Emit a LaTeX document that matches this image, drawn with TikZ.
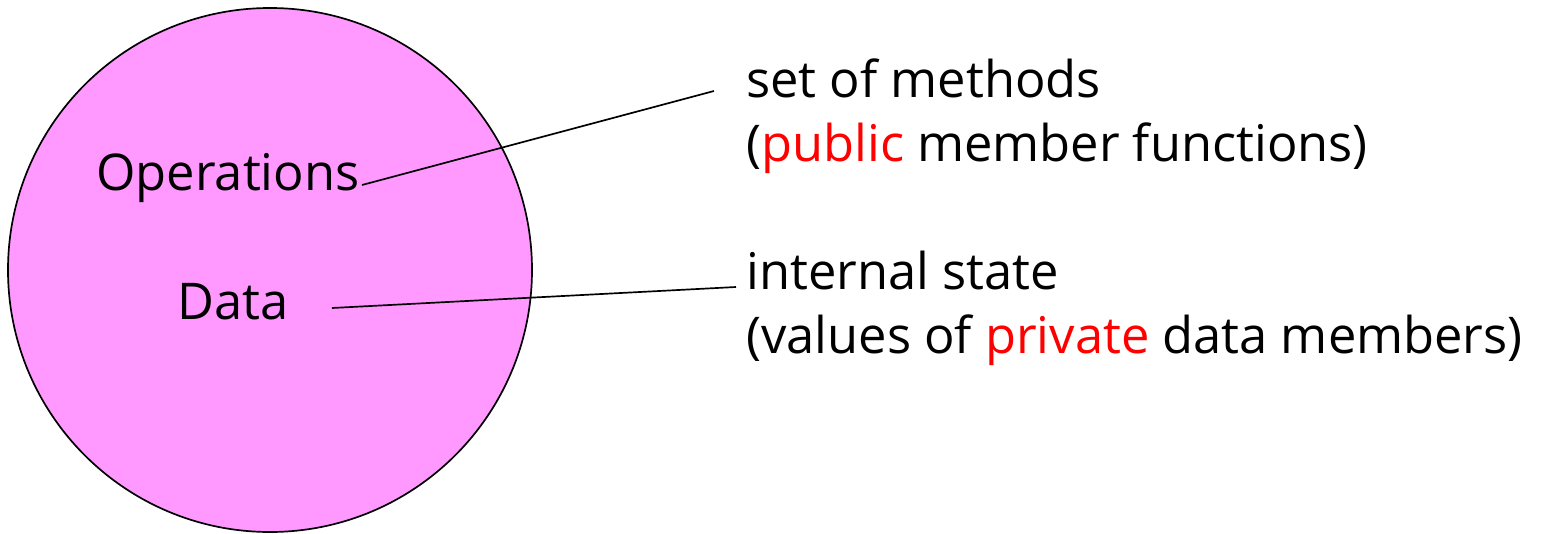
\documentclass[tikz,border=0pt]{standalone}
\usepackage{fontspec}
\setmainfont{Open Sans}
\definecolor{objpink}{HTML}{FF99FF}
\definecolor{keyred}{HTML}{FF0000}

\begin{document}
\begin{tikzpicture}[x=0.025cm, y=-0.025cm,
	every node/.style={font=\fontsize{36}{45}\selectfont, inner sep=0pt},
	lbl/.style={anchor=base west}]
	\useasboundingbox (0,0) rectangle (1546,533);
	\fill[objpink] (270,270) circle (262);
	\draw[line width=1.2pt] (270,270) circle (262);
	\node[anchor=base] (ops) at (228,190) {Operations};
	\node[anchor=base] (data) at (233,319) {Data};
	\coordinate (opsend) at (362,185);
	\coordinate (dataend) at (332,308);
	\coordinate (methin) at (714,91);
	\coordinate (statein) at (736,287);
	\node[lbl] (meth) at (746,97) {set of methods};
	\node[lbl] (methsub) at (746,161) {(\textcolor{keyred}{public} member functions)};
	\node[lbl] (state) at (746,289) {internal state};
	\node[lbl] (statesub) at (746,353) {(values of \textcolor{keyred}{private} data members)};
	\draw[line width=1.2pt] (opsend) -- (methin);
	\draw[line width=1.2pt] (dataend) -- (statein);
\end{tikzpicture}
\end{document}
